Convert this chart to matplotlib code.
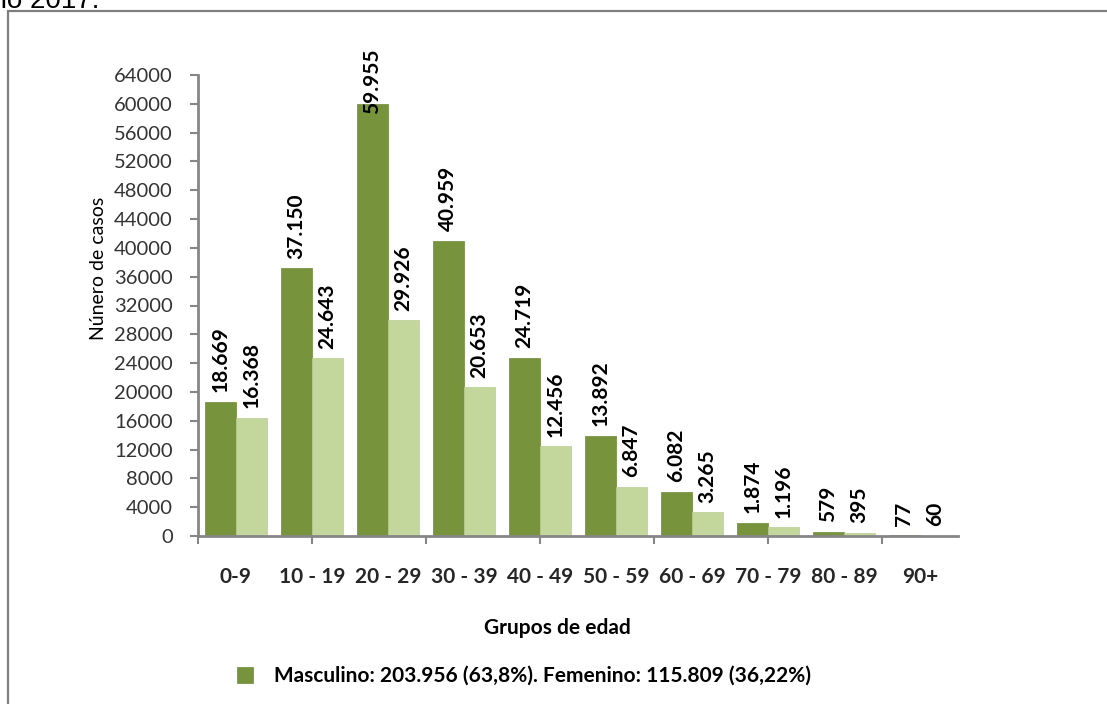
import numpy as np
import matplotlib
matplotlib.use("Agg")
import matplotlib.pyplot as plt
from matplotlib.patches import Rectangle

plt.rcParams['font.family'] = ['Lato', 'DejaVu Sans']

# datos por grupo de edad
grupos = ["0-9", "10 - 19", "20 - 29", "30 - 39", "40 - 49",
          "50 - 59", "60 - 69", "70 - 79", "80 - 89", "90+"]
masculino = [18669, 37150, 59955, 40959, 24719, 13892, 6082, 1874, 579, 77]
femenino = [16368, 24643, 29926, 20653, 12456, 6847, 3265, 1196, 395, 60]
etiquetas_m = ["18.669", "37.150", "59.955", "40.959", "24.719",
               "13.892", "6.082", "1.874", "579", "77"]
etiquetas_f = ["16.368", "24.643", "29.926", "20.653", "12.456",
               "6.847", "3.265", "1.196", "395", "60"]
yticks = list(range(0, 64001, 4000))
leyenda = "Masculino: 203.956 (63,8%). Femenino: 115.809 (36,22%)"

verde = "#77933C"
verde_claro = "#C3D69B"
gris = "#868686"

W, H = 1107, 704
fig = plt.figure(figsize=(W / 100, H / 100), dpi=100)
ax = fig.add_axes([198 / W, 1 - 536 / H, 760 / W, (536 - 75) / H])

x = np.arange(len(grupos))
w = 0.41
bm = ax.bar(x - w / 2, masculino, w, color=verde, edgecolor="#6f8a36", linewidth=0.5)
bf = ax.bar(x + w / 2, femenino, w, color=verde_claro, edgecolor="#b9cc90", linewidth=0.5)

ymax = 64000
for xi, v, t in zip(x - w / 2, masculino, etiquetas_m):
    off = 7 if v < 0.9 * ymax else -7
    ax.annotate(t, (xi, v), xytext=(0, off), textcoords="offset points",
                rotation=90, ha="center", va="bottom", fontsize=15,
                fontweight="bold", annotation_clip=False)
for xi, v, t in zip(x + w / 2, femenino, etiquetas_f):
    ax.annotate(t, (xi, v), xytext=(0, 7), textcoords="offset points",
                rotation=90, ha="center", va="bottom", fontsize=15,
                fontweight="bold")

ax.set_xlim(-0.5, 9.5)
ax.set_ylim(0, ymax)
ax.set_yticks(yticks)
ax.set_yticklabels([str(v) for v in yticks], fontsize=14.5, color="#333333")
ax.tick_params(axis="y", direction="out", length=6, width=1.5, color=gris, pad=12)

# marcas del eje x cada 1,5 grupos, etiquetas en el centro de cada grupo
ax.xaxis.remove_overlapping_locs = False
ax.set_xticks(np.arange(-0.5, 9.5, 1.5))
ax.set_xticklabels([])
ax.tick_params(axis="x", which="major", direction="out", length=6, width=1.5, color=gris)
ax.set_xticks(x, minor=True)
ax.set_xticklabels(grupos, minor=True, fontsize=15, fontweight="bold", color="#262626")
ax.tick_params(axis="x", which="minor", length=0, pad=22)

for s in ["top", "right"]:
    ax.spines[s].set_visible(False)
for s in ["left", "bottom"]:
    ax.spines[s].set_color(gris)
    ax.spines[s].set_linewidth(2)

ax.set_ylabel("Núnero de casos", fontsize=14)
ax.yaxis.set_label_coords(-0.12, 0.58)

fig.text(557 / W, 1 - 628 / H, "Grupos de edad", ha="center", va="center",
         fontsize=15, fontweight="bold")

ax.legend([bm], [leyenda], loc="center left", bbox_to_anchor=(218 / W, 1 - 676 / H),
          bbox_transform=fig.transFigure, frameon=False, handlelength=0.8,
          handleheight=0.8, handletextpad=1.0, prop={"weight": "bold", "size": 15})

# marco y título recortado
fig.add_artist(Rectangle((8 / W, -0.1), 1.2, 1 - 11 / H + 0.1, transform=fig.transFigure,
                         fill=False, edgecolor="#7f7f7f", linewidth=1.6))
fig.text(-0.022, 1 - 8 / H, "año 2017.", family="Liberation Sans", fontsize=20,
         va="baseline", ha="left")

fig.savefig("out.png", dpi=100)
